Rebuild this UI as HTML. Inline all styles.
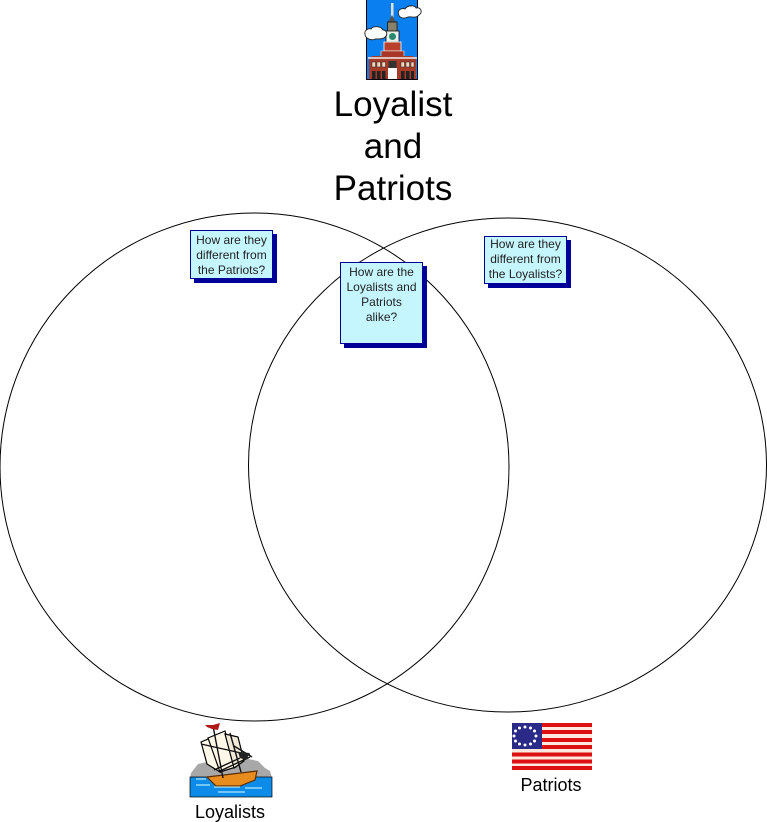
<!DOCTYPE html>
<html>
<head>
<meta charset="utf-8">
<style>
html,body{margin:0;padding:0;background:#fff;}
#p{position:relative;width:767px;height:822px;overflow:hidden;background:#fff;font-family:"Liberation Sans",Arial,sans-serif;color:#000;}
svg{position:absolute;left:0;top:0;}
.t{position:absolute;text-align:center;white-space:nowrap;}
.b{position:absolute;box-sizing:border-box;background:#c6f6fd;border:1px solid #000099;box-shadow:4px 4px 0 #000099;text-align:center;font-size:12px;line-height:15px;color:#222;white-space:nowrap;}
</style>
</head>
<body>
<div id="p">
<svg width="767" height="822" viewBox="0 0 767 822">
<ellipse cx="254.5" cy="467" rx="254.5" ry="254" fill="none" stroke="#000" stroke-width="1"/>
<ellipse cx="507.5" cy="465" rx="259" ry="247" fill="none" stroke="#000" stroke-width="1"/>

<!-- Building -->
<rect x="366" y="0" width="52" height="80" fill="#0a7ff0"/>
<path d="M366.5 0V80M417.5 0V80" stroke="#000" stroke-width="1"/>
<rect x="391" y="3" width="2.5" height="15" fill="#e0e0d8"/>
<path d="M387 24L392 15L397 24Z" fill="#555"/>
<rect x="387.5" y="22" width="9.5" height="10" fill="#8a8268" stroke="#111" stroke-width=".8"/>
<rect x="386" y="31" width="13" height="11" fill="#e8f0e8" stroke="#111" stroke-width=".8"/>
<circle cx="392.5" cy="36.5" r="3.5" fill="#2a8a70"/>
<path d="M384 42H401V51H384Z" fill="#b8402c" stroke="#fff" stroke-width=".8"/>
<path d="M381 51H404V58H381Z" fill="#a83525" stroke="#eee" stroke-width=".6"/>
<path d="M369 80V59L372 56H413L416 59V80Z" fill="#a83a28"/>
<path d="M368 58H417" stroke="#eee" stroke-width="1.4"/>
<g fill="#f2d8c0" stroke="#222" stroke-width=".5"><rect x="372" y="62" width="3.5" height="5"/><rect x="377" y="62" width="3.5" height="5"/><rect x="382" y="62" width="3.5" height="5"/><rect x="401" y="62" width="3.5" height="5"/><rect x="406" y="62" width="3.5" height="5"/><rect x="411" y="62" width="3" height="5"/></g>
<g fill="#222"><rect x="372" y="71" width="3.5" height="8"/><rect x="377" y="71" width="3.5" height="8"/><rect x="382" y="71" width="3.5" height="8"/><rect x="401" y="71" width="3.5" height="8"/><rect x="406" y="71" width="3.5" height="8"/><rect x="411" y="71" width="3" height="8"/></g>
<rect x="388" y="68" width="9" height="12" fill="#fff"/>
<rect x="388.5" y="61" width="8" height="7" fill="#333"/>
<path d="M366 79.5H418" stroke="#000"/>
<g fill="#fff" stroke="#222" stroke-width=".9">
<path d="M398.5 14C397 9 403 8 405 9C407 5 415 5 416 8C421 7 423 12 419 15C416 19 410 16 408 17C404 19 399 18 398.5 14Z"/>
<path d="M365 34C364 30 369 28 371 29C373 25.5 381 26 383 30C387 30 388 35 385 37C382 40.5 376 38 374 39.5C370 40.5 365 38 365 34Z"/>
</g>

<!-- Ship -->
<path d="M191 773L198 764L212 761L222 765L232 762L240 756L248 759L258 761L265 768L270 771L272 778H190Z" fill="#a8a8a8"/>
<rect x="190" y="777" width="82" height="20" fill="#0c8ce8" stroke="#000" stroke-width=".7"/>
<path d="M207 777L257 771L255 780L240 786H216Z" fill="#e88c1e" stroke="#5a2d00" stroke-width="1.2"/>
<path d="M214 787H240M196 785H210M218 792H245M196 779H206M245 788H262" stroke="#dff" stroke-width="1"/>
<path d="M201 742L213 737L220 772L207 764Z" fill="#fff8e8" stroke="#000" stroke-width="1.2"/>
<path d="M208 738L225 731L236 767L220 772Z" fill="#fff8e8" stroke="#000" stroke-width="1.2"/>
<path d="M225 734L238 737L244 761L234 768Z" fill="#f0ead8" stroke="#000" stroke-width="1.2"/>
<path d="M213 726L223 778M230 733L241 772M201 744L250 755M234 746L252 757M220 771L250 757M214 770L240 758" stroke="#111" stroke-width="1.4" fill="none"/>
<path d="M238 752L250 753L246 760L240 758Z" fill="#222"/>
<path d="M205 725L213 725L220 723L218 730L212 729L207 727Z" fill="#b01818"/>

<!-- Flag -->
<rect x="512" y="723" width="80" height="47" fill="#fde8e0"/>
<g fill="#dc1010">
<rect x="512" y="723" width="80" height="4"/>
<rect x="512" y="730" width="80" height="4"/>
<rect x="512" y="738" width="80" height="4"/>
<rect x="512" y="745" width="80" height="4"/>
<rect x="512" y="752.5" width="80" height="4"/>
<rect x="512" y="759.5" width="80" height="4"/>
<rect x="512" y="766" width="80" height="4"/>
</g>
<rect x="512" y="723" width="30" height="26" fill="#2a2a88"/>
<g fill="#fff">
<circle cx="525" cy="727" r="1.5"/><circle cx="530.5" cy="728" r="1.5"/><circle cx="534.5" cy="731" r="1.5"/><circle cx="536" cy="736" r="1.5"/><circle cx="534.5" cy="741" r="1.5"/><circle cx="530.5" cy="744" r="1.5"/><circle cx="525" cy="745" r="1.5"/><circle cx="519.5" cy="744" r="1.5"/><circle cx="515.5" cy="741" r="1.5"/><circle cx="514" cy="736" r="1.5"/><circle cx="515.5" cy="731" r="1.5"/><circle cx="519.5" cy="728" r="1.5"/>
</g>
</svg>

<div class="t" style="left:293px;top:84px;width:200px;font-size:35px;line-height:42px;">Loyalist<br>and<br>Patriots</div>

<div class="b" style="left:190px;top:230px;width:83px;height:49px;padding-top:2px;">How are they<br>different from<br>the Patriots?</div>
<div class="b" style="left:340px;top:262px;width:83px;height:82px;padding-top:2px;">How are the<br>Loyalists and<br>Patriots<br>alike?</div>
<div class="b" style="left:484px;top:236px;width:83px;height:48px;padding-top:0;">How are they<br>different from<br>the Loyalists?</div>

<div class="t" style="left:170px;top:802px;width:120px;font-size:18px;line-height:20px;">Loyalists</div>
<div class="t" style="left:491px;top:775px;width:120px;font-size:18px;line-height:20px;">Patriots</div>
</div>
</body>
</html>
